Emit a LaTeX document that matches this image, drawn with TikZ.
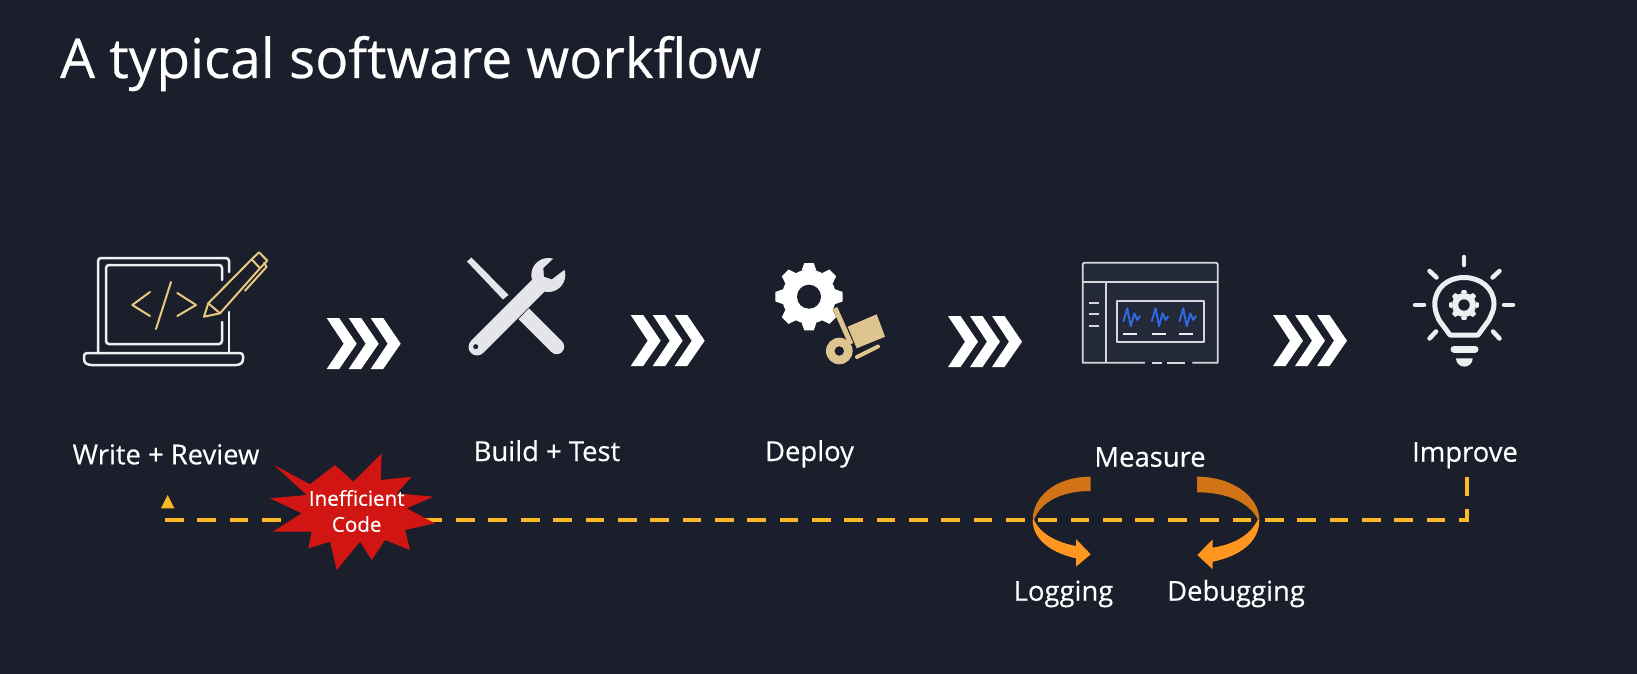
\documentclass[tikz,border=0pt]{standalone}
\usepackage{fontspec}
\setmainfont[RawFeature={embolden=0.35}]{Open Sans}
\definecolor{bgc}{HTML}{1B1F2B}
\definecolor{winfill}{HTML}{232938}
\definecolor{linew}{HTML}{EEEFF3}
\definecolor{toolc}{HTML}{E4E4EA}
\definecolor{tan}{HTML}{DEC58F}
\definecolor{pen}{HTML}{E8C980}
\definecolor{dashc}{HTML}{FDB827}
\definecolor{burst}{HTML}{D01513}
\definecolor{orangeD}{HTML}{D07417}
\definecolor{orangeL}{HTML}{FF961F}
\definecolor{wave}{HTML}{2E6BE6}
\def\gearroot{27}
\def\geartip{34}
\tikzset{
  lbl/.style={text=white,anchor=base,inner sep=0pt,font=\fontsize{27.4}{30}\selectfont},
  iconline/.style={draw=linew,line width=2.5pt,line join=round,line cap=round},
  penline/.style={draw=pen,line width=2pt,line join=round,line cap=round},
  winline/.style={draw=linew!90!black,line width=1.8pt,line join=round},
  ray/.style={draw=linew,line width=4.5pt,line cap=round},
  dashline/.style={draw=dashc,line width=4.5pt,dash pattern=on 18.7pt off 13.65pt},
  chevrons/.pic={
    \foreach \d in {0,22,44}{
      \fill[white,shift={(\d,0)}] (0,0)--(12.5,0)--(30,25.7)--(12.5,51)--(0,51)--(17,25.7)--cycle;
    }
  },
  wavepic/.pic={
    \draw[wave,line width=1.9pt,line join=round] (0,13.4)--(4,0)--(7.4,17.7)--(11,5)--(14,11.7)--(16.7,7.7);
    \draw[linew,line width=1.6pt] (0,25.4)--(14,25.4);
  },
  cog/.pic={
    \foreach \a in {0,45,...,315}{
      \fill[pic actions] (\a-16:\gearroot)--(\a-8:\geartip)--(\a+8:\geartip)--(\a+16:\gearroot)--cycle;
    }
    \fill[pic actions] (0,0) circle (\gearroot);
  },
}
\begin{document}
\begin{tikzpicture}[x=1pt,y=-1pt]
\useasboundingbox (0,0) rectangle (1637,674);
\fill[bgc] (0,0) rectangle (1637,674);

% title
\node[text=white,anchor=base west,inner sep=0pt,font=\fontsize{55}{60}\selectfont] (title) at (60,78) {A typical software workflow};

% laptop
\draw[iconline] (229,272)--(229,261) arc[start angle=0,end angle=-90,radius=3]--(101,258) arc[start angle=-90,end angle=-180,radius=3]--(98,353);
\draw[iconline] (229,312)--(229,353);
\draw[iconline] (222,280)--(222,268) arc[start angle=0,end angle=-90,radius=3]--(109,265) arc[start angle=-90,end angle=-180,radius=3]--(106,341) arc[start angle=180,end angle=90,radius=3]--(219,344) arc[start angle=90,end angle=0,radius=3]--(222,322);
\draw[iconline] (87,353)--(240,353) arc[start angle=-90,end angle=0,radius=3]--(243,359) .. controls (243,363) and (240,365) .. (236,365)--(92,365) .. controls (87,365) and (84,363) .. (84,359)--(84,356) arc[start angle=180,end angle=270,radius=3]--cycle;
\draw[penline] (150,292)--(132.3,305)--(150,316);
\draw[penline] (171,282)--(156,329);
\draw[penline] (177.3,293)--(196,305)--(177.3,316);
\draw[penline] (204,316.7)--(208.3,303.3)--(251.7,259.3)--(259,252.3)--(267.3,260.7)--(260,268.3)--(220,313.3)--cycle;
\draw[penline] (208.3,303.3)--(220,313.3);
\draw[penline] (251.7,259.3)--(260,268.3);
\draw[penline] (264,263)--(266.7,266.7)--(245,290.7);

% tools
\fill[toolc] (467,261.5)--(471.5,257.5)--(508.5,295)--(503,299.5)--cycle;
\draw[toolc,line width=15pt] (520,310)--(556.7,346.7);
\fill[toolc] (556.7,346.7) circle (7.5);
\draw[bgc,line width=21pt] (495,328)--(530,292);
\draw[toolc,line width=17pt,line cap=round] (477,347)--(540,284);
\fill[toolc] (548.3,275) circle (17);
\fill[bgc] (552.7,259.3)--(543.3,268.3)--(544,276.7)--(551.7,279.3)--(564,270)--(578,252)--cycle;
\fill[bgc] (475.7,346.7) circle (2.5);

% deploy icon
\pic[fill=white] at (809,296.7) {cog};
\fill[bgc] (809,296.7) circle (12);
\draw[tan,line width=5pt] (835,308)--(851,344);
\fill[tan] (847.7,326.7)--(876.7,314.3)--(885,336.7)--(856.7,348.3)--cycle;
\draw[tan,line width=4pt,line cap=round] (857,357)--(878,346.5);
\fill[tan] (839.3,351) circle (13.3);
\fill[bgc] (839.3,351) circle (4.7);

% window icon
\fill[winfill] (1082.7,262.7) rectangle (1217.7,362.7);
\draw[winline] (1145,362.7)--(1082.7,362.7)--(1082.7,264.7) arc[start angle=180,end angle=270,radius=2]--(1215.7,262.7) arc[start angle=-90,end angle=0,radius=2]--(1217.7,362.7)--(1192.3,362.7);
\draw[bgc,line width=2.2pt] (1145,362.7)--(1192.3,362.7);
\draw[winline] (1151.7,362.7)--(1161.7,362.7);
\draw[winline] (1166.7,362.7)--(1185,362.7);
\draw[winline] (1082.7,281.7)--(1217.7,281.7);
\draw[winline] (1106,281.7)--(1106,362.7);
\draw[winline] (1116.7,300.7) rectangle (1204.3,341.7);
\draw[winline] (1089.3,302.7)--(1099.3,302.7);
\draw[winline] (1089.3,314.3)--(1099.3,314.3);
\draw[winline] (1089.3,326.3)--(1099.3,326.3);
\pic at (1123.3,308.3) {wavepic};
\pic at (1151.6,308.3) {wavepic};
\pic at (1179.3,308.3) {wavepic};

% bulb
\draw[linew,line width=5pt,line join=round] (1450,335)--(1478,335)--(1489,320) .. controls (1492,313) and (1494,310) .. (1494,304) .. controls (1494,288) and (1480,277.5) .. (1464,277.5) .. controls (1448,277.5) and (1434.8,288) .. (1434.8,304) .. controls (1434.8,310) and (1436,313) .. (1439,320)--cycle;
\draw[ray] (1464,257)--(1464,265);
\draw[ray] (1415,305)--(1424,305);
\draw[ray] (1504,305)--(1513,305);
\draw[ray] (1429.5,271)--(1436.5,277.5);
\draw[ray] (1499.5,271)--(1492.5,277.5);
\draw[ray] (1429.5,338.5)--(1436,331.5);
\draw[ray] (1499.5,338.5)--(1493,331.5);
\draw[linew,line width=7pt,line cap=round] (1454,349)--(1475,349);
\fill[linew] (1456,358.3)--(1472.7,358.3) arc[start angle=0,end angle=180,radius=8.35]--cycle;
\def\gearroot{12}\def\geartip{15}
\pic[fill=linew] at (1464,305) {cog};
\fill[bgc] (1464,305) circle (5.7);

% chevrons
\pic at (326.7,318) {chevrons};
\pic at (630.7,315) {chevrons};
\pic at (948,316) {chevrons};
\pic at (1273,315) {chevrons};

% labels
\node[lbl] (write) at (166,464.3) {Write + Review};
\node[lbl] (build) at (547,461) {Build + Test};
\node[lbl] (deploy) at (809.5,461) {Deploy};
\node[lbl] (measure) at (1150,466.7) {Measure};
\node[lbl] (improve) at (1465,461.7) {Improve};
\node[lbl] (logging) at (1063.5,600.7) {Logging};
\node[lbl] (debugging) at (1236,600.7) {Debugging};

% feedback line
\coordinate (fbstart) at (1467,477);
\coordinate (fbcorner) at (1467,520);
\coordinate (fbend) at (165,520);
\draw[dashline] (fbstart)--(fbcorner)--(fbend);
\fill[dashc] (167.7,495)--(174.3,508.3)--(161,508.3)--cycle;

% starburst
\fill[burst] (274,465)--(310,484.3)--(335,465)--(353.3,481.7)--(381.7,453.3)--(380.7,480)--(411.7,476.7)--(396.7,493.3)--(433.3,496.7)--(406.7,508.3)--(435,523.3)--(405,530)--(410,550)--(385,540)--(371.7,560)--(360,541.7)--(336.7,570)--(330,541.7)--(308.3,548.3)--(311.7,531.7)--(272.7,531.7)--(301.7,513.3)--(270,498.3)--(306.7,495)--cycle;
\node[text=white,align=center,inner sep=0pt,font=\fontsize{20.6}{26}\selectfont] (ineff) at (356.7,511) {Inefficient\\Code};

% curved arrows
\fill[orangeD] (1090.7,476.7) .. controls (1055,476.7) and (1032.7,497) .. (1032.7,520)--(1034,520) .. controls (1040,503) and (1060,491) .. (1090.7,491)--cycle;
\fill[orangeL] (1032.7,520) .. controls (1032.7,540) and (1052,553) .. (1076,558.3)--(1076,566.7)--(1090.7,554.3)--(1076,539)--(1076,546) .. controls (1055,542) and (1040,533) .. (1034,520)--cycle;
\fill[orangeD] (1197,476.7) .. controls (1233,476.7) and (1259.3,497) .. (1259.3,520)--(1258,520) .. controls (1250,503) and (1228,492.3) .. (1197,492.3)--cycle;
\fill[orangeL] (1259.3,520) .. controls (1259.3,542) and (1240,556) .. (1212.7,561.7)--(1212.7,569.3)--(1197.3,555)--(1212.7,539.3)--(1212.7,547.7) .. controls (1235,544) and (1250,535) .. (1257.7,520)--cycle;
\end{tikzpicture}
\end{document}
